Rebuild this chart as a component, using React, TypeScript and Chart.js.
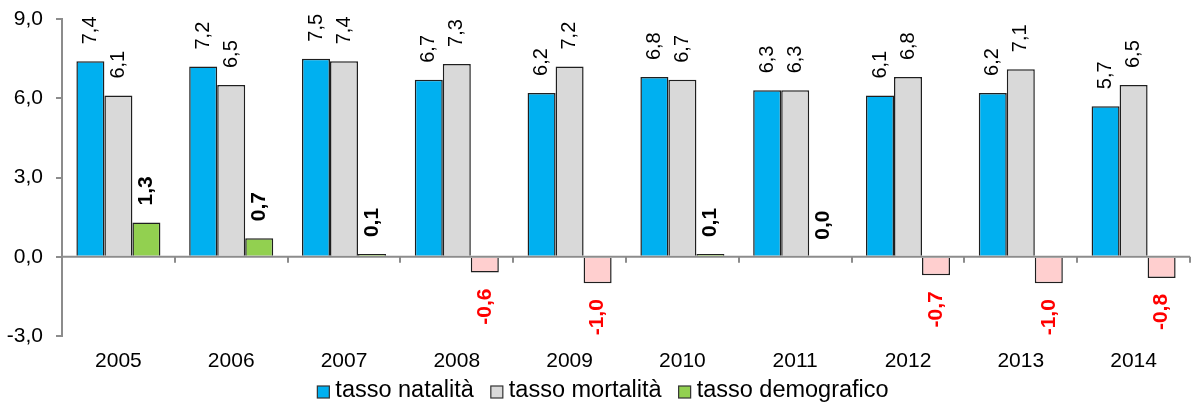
import React, { useEffect, useRef } from 'react';
import { Chart, registerables } from 'chart.js';

Chart.register(...registerables);

const categories = ['2005', '2006', '2007', '2008', '2009', '2010', '2011', '2012', '2013', '2014'];
const natalita = [7.4, 7.2, 7.5, 6.7, 6.2, 6.8, 6.3, 6.1, 6.2, 5.7];
const mortalita = [6.1, 6.5, 7.4, 7.3, 7.2, 6.7, 6.3, 6.8, 7.1, 6.5];
const demografico = [1.3, 0.7, 0.1, -0.6, -1.0, 0.1, 0.0, -0.7, -1.0, -0.8];
const seriesLabels = ['tasso natalità', 'tasso mortalità', 'tasso demografico'];
const yMin = -3;
const yMax = 9;
const yStep = 3;

const FONT = '"Liberation Sans", Arial, Helvetica, sans-serif';
const AXIS = '#8c8c8c';
const BLUE = '#00B0F0';
const GRAY = '#D9D9D9';
const GREEN = '#92D050';
const PINK = '#FFCFCF';
const BORDER = '#1f1f1f';

const fmt = (v: number) => {
  const s = Number(v).toFixed(1).replace('.', ',');
  return s === '-0,0' ? '0,0' : s;
};

const overlayPlugin = {
  id: 'overlay',
  afterDatasetsDraw(chart: any) {
    const ctx = chart.ctx as CanvasRenderingContext2D;
    const xs = chart.scales.x;
    const ys = chart.scales.y;
    const area = chart.chartArea;
    const y0 = ys.getPixelForValue(0);
    const n = categories.length;
    const w = (area.right - area.left) / n;

    ctx.save();
    ctx.strokeStyle = AXIS;
    ctx.lineWidth = 2;
    ctx.beginPath();
    ctx.moveTo(area.left, y0);
    ctx.lineTo(area.right, y0);
    ctx.stroke();
    ctx.beginPath();
    for (let i = 0; i <= n; i++) {
      const bx = i < n ? xs.getPixelForValue(i) - w / 2 : xs.getPixelForValue(n - 1) + w / 2;
      const px = Math.round(bx);
      ctx.moveTo(px, y0);
      ctx.lineTo(px, y0 + 6);
    }
    ctx.stroke();

    chart.data.datasets.forEach((ds: any, di: number) => {
      const meta = chart.getDatasetMeta(di);
      meta.data.forEach((el: any, i: number) => {
        const v = ds.data[i] as number;
        const isDemo = di === 2;
        ctx.save();
        ctx.font = isDemo ? `bold 21px ${FONT}` : `20px ${FONT}`;
        ctx.fillStyle = isDemo && v < 0 ? '#FF0000' : '#000000';
        ctx.textBaseline = 'middle';
        if (v >= 0) {
          ctx.translate(el.x, el.y - 17);
          ctx.rotate(-Math.PI / 2);
          ctx.textAlign = 'left';
        } else {
          ctx.translate(el.x, el.y + 16);
          ctx.rotate(-Math.PI / 2);
          ctx.textAlign = 'right';
        }
        ctx.fillText(fmt(v), 0, 0);
        ctx.restore();
      });
    });
    ctx.restore();
  },
  afterDraw(chart: any) {
    const ctx = chart.ctx as CanvasRenderingContext2D;
    const colors = [BLUE, GRAY, GREEN];
    ctx.save();
    ctx.font = `23.5px ${FONT}`;
    const box = 12;
    const gap = 6;
    const spacing = 17;
    const widths = seriesLabels.map((t) => ctx.measureText(t).width);
    const total =
      widths.reduce((a, b) => a + b, 0) + seriesLabels.length * (box + gap) + spacing * (seriesLabels.length - 1);
    let x = 603 - total / 2;
    const cy = 391;
    seriesLabels.forEach((t, i) => {
      ctx.fillStyle = colors[i];
      ctx.fillRect(x, cy - box / 2 + 1, box, box);
      ctx.strokeStyle = '#333';
      ctx.lineWidth = 1.2;
      ctx.strokeRect(x, cy - box / 2 + 1, box, box);
      ctx.fillStyle = '#000';
      ctx.textBaseline = 'middle';
      ctx.textAlign = 'left';
      ctx.fillText(t, x + box + gap, cy);
      x += box + gap + widths[i] + spacing;
    });
    ctx.restore();
  },
};

export default function App() {
  const ref = useRef<HTMLCanvasElement>(null);

  useEffect(() => {
    if (!ref.current) return;
    const chart = new Chart(ref.current, {
      type: 'bar',
      data: {
        labels: categories,
        datasets: [
          {
            label: seriesLabels[0],
            data: natalita,
            backgroundColor: BLUE,
            borderColor: BORDER,
            borderWidth: 1.5,
          },
          {
            label: seriesLabels[1],
            data: mortalita,
            backgroundColor: GRAY,
            borderColor: BORDER,
            borderWidth: 1.5,
          },
          {
            label: seriesLabels[2],
            data: demografico,
            backgroundColor: demografico.map((v) => (v < 0 ? PINK : GREEN)),
            borderColor: BORDER,
            borderWidth: 1.5,
          },
        ],
      },
      options: {
        responsive: false,
        animation: false,
        devicePixelRatio: 1,
        layout: { padding: { top: 19, right: 2, bottom: 0, left: 0 } },
        datasets: {
          bar: { categoryPercentage: 0.745, barPercentage: 1.0 },
        },
        plugins: {
          legend: { display: false },
          tooltip: { enabled: false },
          title: { display: false },
        },
        scales: {
          x: {
            grid: { display: false, drawTicks: false },
            border: { display: false },
            ticks: { font: { family: FONT, size: 21 }, color: '#000', padding: 13 },
            afterFit: (s: any) => {
              s.height = 69;
              s.paddingLeft = 0;
              s.paddingRight = 0;
            },
          },
          y: {
            min: yMin,
            max: yMax,
            ticks: {
              stepSize: yStep,
              callback: (v: any) => fmt(Number(v)),
              font: { family: FONT, size: 21 },
              color: '#000',
              padding: 13,
            },
            grid: { drawOnChartArea: false, drawTicks: true, tickLength: 6, color: AXIS, lineWidth: 2 },
            border: { color: AXIS, width: 2 },
            afterFit: (s: any) => {
              s.width = 62;
              s.paddingTop = 0;
              s.paddingBottom = 0;
            },
          },
        },
      },
      plugins: [overlayPlugin],
    });
    return () => chart.destroy();
  }, []);

  return (
    <div style={{ position: 'absolute', left: 0, top: 0, width: 1192, height: 405, background: '#fff' }}>
      <canvas ref={ref} width={1192} height={405} style={{ display: 'block' }} />
    </div>
  );
}
